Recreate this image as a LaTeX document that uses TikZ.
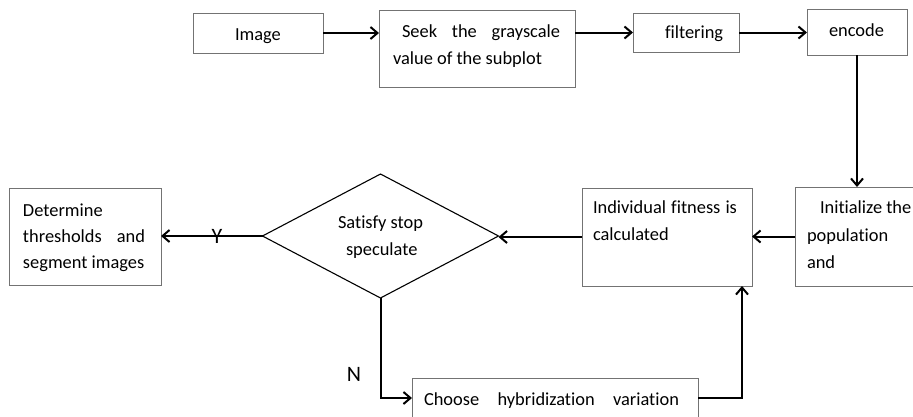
\documentclass[tikz,border=0pt]{standalone}
\usepackage{fontspec}
\setmainfont{Carlito}[Ligatures=NoCommon]
\usetikzlibrary{arrows.meta,shapes.geometric}
\definecolor{boxgray}{RGB}{115,115,115}
\newcommand\bodyfont{\fontsize{18.4}{27}\selectfont}
\newcommand\labfont{\fontsize{22}{26}\selectfont}
\tikzset{
  box/.style={draw=boxgray, line width=0.9pt, inner sep=0pt, outer sep=0pt, anchor=north west, fill=white},
  txt/.style={inner sep=0pt, outer sep=0pt, anchor=base west, font=\bodyfont},
  arr/.style={line width=2pt, -{Straight Barb[length=7pt,width=12pt]}},
  lab/.style={inner sep=0pt, font=\labfont},
}
\begin{document}
\begin{tikzpicture}[x=1pt,y=-1pt]
\useasboundingbox (0,0) rectangle (913,416);
\clip (0,0) rectangle (913,416);
% boxes
\node[box, minimum width=130pt, minimum height=40pt] (img) at (193,13) {};
\node[box, minimum width=196pt, minimum height=77pt] (seek) at (379,10) {};
\node[box, minimum width=106pt, minimum height=39pt] (filt) at (633,13) {};
\node[box, minimum width=100pt, minimum height=46pt] (enc) at (807,9) {};
\node[box, minimum width=125pt, minimum height=99pt] (init) at (795,187) {};
\node[box, minimum width=170pt, minimum height=98pt] (fit) at (582,188) {};
\node[box, minimum width=152pt, minimum height=97pt] (det) at (9,188) {};
\node[box, minimum width=286pt, minimum height=40pt] (choose) at (412,378) {};
\node[draw, diamond, line width=1.1pt, inner sep=0pt, outer sep=0pt,
      minimum width=236pt, minimum height=124pt] (dia) at (380.5,236) {};
% texts
\node[txt] (tImg) at (235,40) {Image};
\node[txt] (tSeek1) at (402,37) {\hbox to 158pt{Seek\hfill the\hfill grayscale}};
\node[txt] (tSeek2) at (393,64) {value of the subplot};
\node[txt] (tFilt) at (665,38) {filtering};
\node[txt] (tEnc) at (829,36) {encode};
\node[txt] (tInit1) at (820,213) {Initialize the};
\node[txt] (tInit2) at (807,241) {population};
\node[txt] (tInit3) at (807,268) {and};
\node[txt] (tFit1) at (593,213) {\hbox to 144pt{Individual\hfill fitness\hfill is}};
\node[txt] (tFit2) at (593,240) {calculated};
\node[txt] (tDet1) at (23,216) {Determine};
\node[txt] (tDet2) at (23,242) {\hbox to 122pt{thresholds\hfill and}};
\node[txt] (tDet3) at (23,268) {segment images};
\node[txt] (tSat1) at (338,228) {Satisfy stop};
\node[txt] (tSat2) at (346,255) {speculate};
\node[txt] (tCho) at (424,405) {\hbox to 255pt{Choose\hfill hybridization\hfill variation}};
% connectors
\draw[arr] (img.east) -- (seek.west |- img.east);
\draw[arr] (seek.east |- filt.west) -- (filt.west);
\draw[arr] (filt.east) -- (enc.west |- filt.east);
\draw[arr] (enc.south) -- (enc.south |- init.north);
\draw[arr] (init.west) -- (fit.east |- init.west);
\draw[arr] (fit.west) -- (fit.west -| dia.east);
\draw[arr] (dia.west) -- (det.east |- dia.west);
\draw[arr] (dia.south) |- (choose.west);
\coordinate (c1) at (742,398);
\draw[arr] (choose.east) -- (c1) -- (c1 |- fit.south);
% labels
\node[lab] (lY) at (217,236) {Y};
\node[lab] (lN) at (354,374) {N};
\end{tikzpicture}
\end{document}
